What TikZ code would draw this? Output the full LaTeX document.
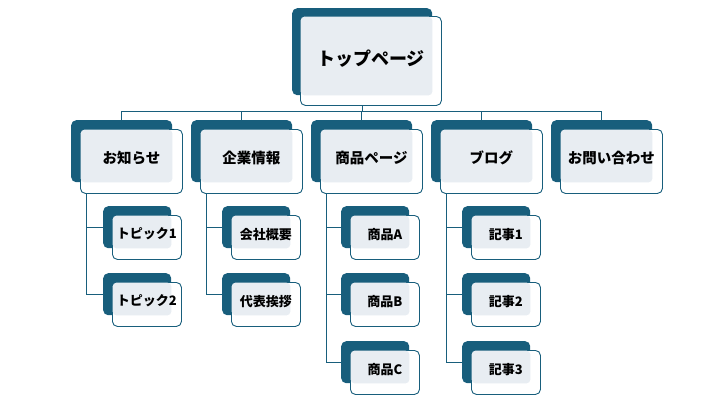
\documentclass[tikz,border=0pt]{standalone}
\usepackage{fontspec}
\newfontfamily\jpfont{Noto Sans CJK JP}
\usetikzlibrary{calc}
\definecolor{tealdk}{HTML}{185E7C}
\definecolor{lightg}{HTML}{E8EDF2}
\tikzset{
  darkbox/.style={anchor=north west, fill=tealdk, draw=none, inner sep=0pt, rounded corners=5pt},
  frontbox/.style={anchor=north west, fill=white, draw=tealdk, line width=0.9pt, inner sep=0pt, rounded corners=5pt},
  lightfill/.style={fill=lightg, rounded corners=4pt},
  conn/.style={draw=tealdk, line width=0.8pt},
  ttop/.style={font=\jpfont\bfseries\fontsize{18}{21}\selectfont, inner sep=0pt},
  tmid/.style={font=\jpfont\bfseries\fontsize{14.5}{17}\selectfont, inner sep=0pt},
  tlow/.style={font=\jpfont\bfseries\fontsize{13}{15}\selectfont, inner sep=0pt},
}
\newcommand\mkbox[8]{%
  \node[darkbox, minimum width=#4, minimum height=#5] (#1D) at (#2,#3) {};
  \node[frontbox, minimum width=#4+1, minimum height=#5+2] (#1) at ([shift={(#6,#6)}]#1D.north west) {};
  \fill[lightfill] ([shift={(0.6,0.6)}]#1.north west) rectangle (#1D.south east);
  \node[#7] (#1T) at ($(#1.north)!0.5!(#1.north |- #1D.south)+(0,2.5)$) {#8};
}
\begin{document}
\begin{tikzpicture}[x=1pt,y=-1pt]
\useasboundingbox (0,0) rectangle (720,405);
% top
\mkbox{top}{292}{8}{140}{87}{8}{ttop}{トップページ}
% level 2
\mkbox{n1}{71}{120}{101}{62}{9}{tmid}{お知らせ}
\mkbox{n2}{191}{120}{101}{62}{9}{tmid}{企業情報}
\mkbox{n3}{311}{120}{101}{62}{9}{tmid}{商品ページ}
\mkbox{n4}{431}{120}{101}{62}{9}{tmid}{ブログ}
\mkbox{n5}{551}{120}{101}{62}{9}{tmid}{お問い合わせ}
% level 3
\mkbox{c11}{103}{206}{68}{42}{9}{tlow}{トピック1}
\mkbox{c12}{103}{273}{68}{42}{9}{tlow}{トピック2}
\mkbox{c21}{222}{206}{68}{42}{9}{tlow}{会社概要}
\mkbox{c22}{222}{273}{68}{42}{9}{tlow}{代表挨拶}
\mkbox{c31}{341}{206}{68}{42}{9}{tlow}{商品A}
\mkbox{c32}{341}{273}{68}{42}{9}{tlow}{商品B}
\mkbox{c33}{341}{341}{68}{42}{9}{tlow}{商品C}
\mkbox{c41}{462}{206}{68}{42}{9}{tlow}{記事1}
\mkbox{c42}{462}{273}{68}{42}{9}{tlow}{記事2}
\mkbox{c43}{462}{341}{68}{42}{9}{tlow}{記事3}
% connectors level 1 -> 2
\coordinate (hub) at (0,111);
\draw[conn] (topD.center |- top.south) -- (topD.center |- hub);
\draw[conn] (n1D.north |- hub) -- (n5D.north |- hub);
\draw[conn] (n1D.north |- hub) -- (n1D.north);
\draw[conn] (n2D.north |- hub) -- (n2D.north);
\draw[conn] (n3D.north |- hub) -- (n3D.north);
\draw[conn] (n4D.north |- hub) -- (n4D.north);
\draw[conn] (n5D.north |- hub) -- (n5D.north);
% connectors level 2 -> 3
\coordinate (v1) at ([xshift=6pt]n1.south west);
\coordinate (v2) at ([xshift=6pt]n2.south west);
\coordinate (v3) at ([xshift=6pt]n3.south west);
\coordinate (v4) at ([xshift=6pt]n4.south west);
\draw[conn] (v1) -- (v1 |- c12D.west);
\draw[conn] (v1 |- c11D.west) -- (c11D.west);
\draw[conn] (v1 |- c12D.west) -- (c12D.west);
\draw[conn] (v2) -- (v2 |- c22D.west);
\draw[conn] (v2 |- c21D.west) -- (c21D.west);
\draw[conn] (v2 |- c22D.west) -- (c22D.west);
\draw[conn] (v3) -- (v3 |- c33D.west);
\draw[conn] (v3 |- c31D.west) -- (c31D.west);
\draw[conn] (v3 |- c32D.west) -- (c32D.west);
\draw[conn] (v3 |- c33D.west) -- (c33D.west);
\draw[conn] (v4) -- (v4 |- c43D.west);
\draw[conn] (v4 |- c41D.west) -- (c41D.west);
\draw[conn] (v4 |- c42D.west) -- (c42D.west);
\draw[conn] (v4 |- c43D.west) -- (c43D.west);
\end{tikzpicture}
\end{document}
